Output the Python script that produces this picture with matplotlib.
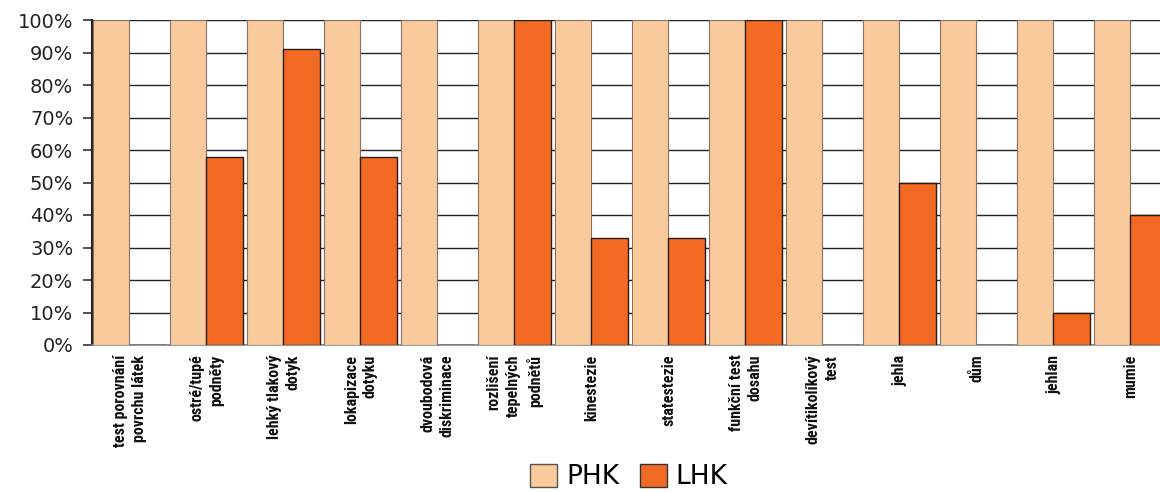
import numpy as np
import matplotlib
matplotlib.use("Agg")
import matplotlib.pyplot as plt
from matplotlib import font_manager
from matplotlib.patches import Patch

# Kategorie testů a výsledky (podíl v %)
kategorie = [
    "test porovnání\npovrchu látek",
    "ostré/tupé\npodněty",
    "lehký tlakový\ndotyk",
    "lokapizace\ndotyku",
    "dvoubodová\ndiskriminace",
    "rozlišení\ntepelných\npodnětů",
    "kinestezie",
    "statestezie",
    "funkční test\ndosahu",
    "devítikolíkový\ntest",
    "jehla",
    "dům",
    "jehlan",
    "mumie",
]
phk = [100, 100, 100, 100, 100, 100, 100, 100, 100, 100, 100, 100, 100, 100]
lhk = [0, 58, 91, 58, 0, 100, 33, 33, 100, 0, 50, 0, 10, 40]

barva_phk = "#F9CB9C"
barva_lhk = "#F26A23"

# úzké písmo pro popisky osy x, pokud je k dispozici
nazvy = {f.name for f in font_manager.fontManager.ttflist}
uzke = [n for n in ["Liberation Sans Narrow", "Roboto Condensed", "Open Sans Condensed",
                    "Noto Sans Condensed", "DejaVu Sans Condensed"] if n in nazvy]
pismo_x = uzke[0] if uzke else "DejaVu Sans"

fig = plt.figure(figsize=(11.6, 4.92), dpi=100)
ax = fig.add_axes([92 / 1160, 147 / 492, 1068 / 1160, 325 / 492])

x = np.arange(len(kategorie))
sirka_phk = 0.468
sirka_lhk = 0.481
ax.bar(x + 0.013, phk, width=sirka_phk, align="edge", color=barva_phk,
       edgecolor="#8a7060", linewidth=0.8, zorder=3)
ax.bar(x + 0.013 + sirka_phk, lhk, width=sirka_lhk, align="edge", color=barva_lhk,
       edgecolor="#2a1a10", linewidth=1.0, zorder=3)

ax.set_xlim(0, 1068 / 77)
ax.set_ylim(0, 100)
ax.set_yticks(np.arange(0, 101, 10))
ax.set_yticklabels([f"{v}%" for v in range(0, 101, 10)],
                   fontsize=14, family="DejaVu Sans", color="#222222")
ax.yaxis.grid(True, color="#222222", linewidth=1.0, zorder=0)
ax.tick_params(axis="y", direction="out", length=6.5, width=1.2, color="#333333", pad=7)

ax.set_xticks(x + 0.49)
ax.set_xticklabels(kategorie, rotation=90, fontsize=11.5 if uzke else 9,
                   fontweight="bold", fontstretch="condensed",
                   family=[pismo_x, "DejaVu Sans"], color="#111111",
                   va="top", ha="center", multialignment="right", linespacing=1.35)
ax.tick_params(axis="x", length=0, pad=7)

for s in ["top", "right"]:
    ax.spines[s].set_visible(False)
ax.spines["left"].set_color("#222222")
ax.spines["left"].set_linewidth(1.5)
ax.spines["bottom"].set_color("#888888")
ax.spines["bottom"].set_linewidth(1.2)

handles = [
    Patch(facecolor=barva_phk, edgecolor="#555555", linewidth=1.0, label="PHK"),
    Patch(facecolor=barva_lhk, edgecolor="#333333", linewidth=1.0, label="LHK"),
]
fig.legend(handles=handles, loc="center", bbox_to_anchor=(629 / 1160, 1 - 477 / 492),
           ncol=2, frameon=False, fontsize=19, handlelength=1.0, handleheight=0.95,
           handletextpad=0.35, columnspacing=0.8)

fig.savefig("out.png", dpi=100)
